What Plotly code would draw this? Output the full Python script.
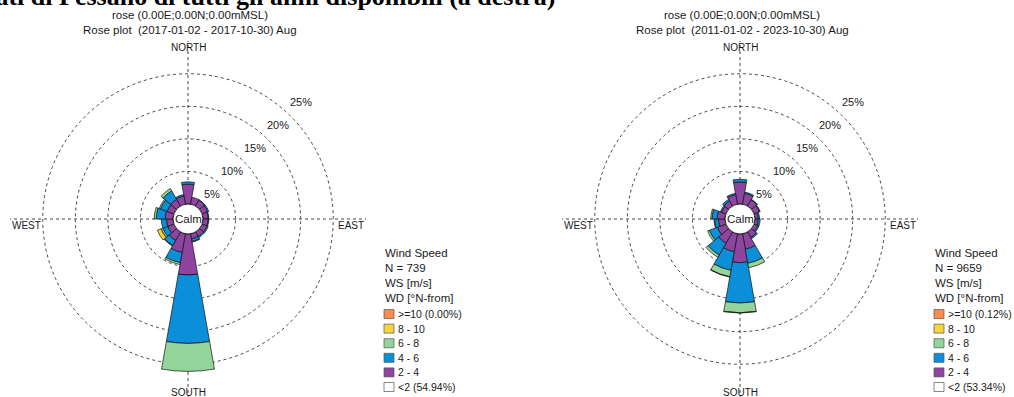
import plotly.graph_objects as go

# ---- data -----------------------------------------------------------------
# 18 direction sectors of 20 degrees, centred on 0, 20, ..., 340 (deg N-from)
bearings = [i * 20 for i in range(18)]

speed_classes = ["2 - 4", "4 - 6", "6 - 8", "8 - 10", ">=10"]
class_colors = ["#8e45a0", "#0a8fd8", "#93d49b", "#f6d53a", "#fb8a4e"]

# 2017 (percent of all records, by direction sector)
y2017_2_4 = [3.05, 1.1, 1.0, 0.9, 0.8, 0.8, 0.8, 0.8, 0.8, 6.3, 2.9, 1.5, 1.0, 1.0, 1.2, 1.1, 1.2, 1.3]
y2017_4_6 = [0.35, 0.0, 0.1, 0.2, 0.1, 0.1, 0.2, 0.2, 0.4, 10.5, 1.6, 0.9, 0.8, 0.8, 1.4, 1.1, 1.5, 0.2]
y2017_6_8 = [0.0, 0.0, 0.0, 0.0, 0.0, 0.0, 0.0, 0.0, 0.1, 4.3, 0.3, 0.1, 0.3, 0.0, 0.3, 0.2, 0.4, 0.0]
y2017_8_10 = [0.0, 0.0, 0.0, 0.0, 0.0, 0.0, 0.0, 0.0, 0.0, 0.0, 0.0, 0.0, 0.6, 0.0, 0.0, 0.0, 0.0, 0.0]
y2017_ge10 = [0.0] * 18

# 2011-2023
yall_2_4 = [3.4, 1.7, 1.1, 0.9, 0.5, 0.5, 0.6, 1.0, 2.4, 4.4, 2.8, 2.0, 1.4, 1.0, 1.2, 0.7, 0.9, 1.5]
yall_4_6 = [0.4, 0.2, 0.1, 0.1, 0.2, 0.3, 0.2, 0.2, 2.2, 6.2, 2.9, 2.1, 1.3, 0.6, 0.8, 0.2, 0.3, 0.2]
yall_6_8 = [0.0, 0.0, 0.0, 0.0, 0.0, 0.0, 0.0, 0.0, 0.7, 1.5, 1.0, 0.4, 0.3, 0.1, 0.2, 0.0, 0.0, 0.0]
yall_8_10 = [0.0, 0.0, 0.0, 0.0, 0.0, 0.0, 0.0, 0.0, 0.0, 0.05, 0.05, 0.0, 0.0, 0.0, 0.0, 0.0, 0.0, 0.0]
yall_ge10 = [0.0] * 18

roses = [
    dict(subtitle="rose (0.00E;0.00N;0.00mMSL)",
         period="Rose plot  (2017-01-02 - 2017-10-30) Aug",
         n=739, calm="54.94%", top="0.00%",
         series=[y2017_2_4, y2017_4_6, y2017_6_8, y2017_8_10, y2017_ge10]),
    dict(subtitle="rose (0.00E;0.00N;0.00mMSL)",
         period="Rose plot  (2011-01-02 - 2023-10-30) Aug",
         n=9659, calm="53.34%", top="0.12%",
         series=[yall_2_4, yall_4_6, yall_6_8, yall_8_10, yall_ge10]),
]

ring_values = [5, 10, 15, 20, 25]
R_MAX = 25

# ---- layout geometry (pixels) -----------------------------------------------
W, H = 1014, 397
R_PX = 178          # outer ring radius
HOLE_PX = 15        # calm circle radius
centers = [(188, 219), (740, 219)]
legend_x = [383, 933]


def px(x, y):
    return x / W, 1 - y / H


def r_px(v):
    return HOLE_PX + v * (R_PX - HOLE_PX) / R_MAX


fig = go.Figure()
annotations = []
shapes = []
TXT = dict(family="Liberation Sans, Arial, sans-serif", color="#1a1a1a")

for k, rose in enumerate(roses):
    polar = "polar" if k == 0 else "polar2"
    for name, vals, col in zip(speed_classes, rose["series"], class_colors):
        fig.add_trace(go.Barpolar(
            r=vals, theta=bearings, name=name, subplot=polar,
            marker=dict(color=col, line=dict(color="#111111", width=0.7)),
            showlegend=False, hoverinfo="skip"))

    cx, cy = centers[k]
    x0, _ = px(cx - R_PX, 0)
    x1, _ = px(cx + R_PX, 0)
    _, y0 = px(0, cy + R_PX)
    _, y1 = px(0, cy - R_PX)
    fig.layout[polar] = dict(
        domain=dict(x=[x0, x1], y=[max(0, y0), min(1, y1)]),
        hole=HOLE_PX / R_PX,
        bgcolor="white",
        barmode="stack",
        bargap=0,
        radialaxis=dict(range=[0, R_MAX + 0.03], tickvals=ring_values,
                        showticklabels=False, ticks="", showline=False,
                        showgrid=True, gridcolor="#444444", gridwidth=0.8,
                        griddash="dot"),
        angularaxis=dict(rotation=90, direction="clockwise",
                         tickvals=[0, 90, 180, 270], showticklabels=False,
                         ticks="", showline=False, showgrid=True,
                         gridcolor="#444444", gridwidth=0.8, griddash="dot"),
    )

    # headings
    for text, yy in [(rose["subtitle"], 15), (rose["period"], 30)]:
        ax, ay = px(cx + 2, yy)
        annotations.append(dict(x=ax, y=ay, xref="paper", yref="paper",
                                text=text, showarrow=False, xanchor="center",
                                yanchor="middle", font=dict(size=11.5, **TXT)))

    # compass labels inside the outer ring
    for text, xx, yy, anc in [("NORTH", cx, 47, "center"),
                              ("SOUTH", cx, 392, "center"),
                              ("WEST", cx - R_PX, 226, "left"),
                              ("EAST", cx + R_PX, 226, "right")]:
        ax, ay = px(xx, yy)
        annotations.append(dict(x=ax, y=ay, xref="paper", yref="paper",
                                text=text, showarrow=False, xanchor=anc,
                                yanchor="middle", font=dict(size=10, **TXT)))

    # ring labels along the NE diagonal
    for v in ring_values:
        d = r_px(v) * 0.7071
        ax, ay = px(cx + d, cy - d + 1)
        annotations.append(dict(x=ax, y=ay, xref="paper", yref="paper",
                                text=f"{v}%", showarrow=False, xanchor="right",
                                yanchor="top", font=dict(size=11, **TXT)))

    # calm circle
    cx0, cy0 = px(cx - HOLE_PX, cy + HOLE_PX)
    cx1, cy1 = px(cx + HOLE_PX, cy - HOLE_PX)
    shapes.append(dict(type="circle", xref="paper", yref="paper",
                       x0=cx0, y0=cy0, x1=cx1, y1=cy1,
                       line=dict(color="#111111", width=0.9),
                       fillcolor="white", layer="above"))
    ax, ay = px(cx, cy)
    annotations.append(dict(x=ax, y=ay, xref="paper", yref="paper", text="Calm",
                            showarrow=False, xanchor="center", yanchor="middle",
                            font=dict(size=11.5, **TXT)))

    # legend block
    lx = legend_x[k]
    for text, yy in [("Wind Speed", 253), (f"N = {rose['n']}", 268),
                     ("WS [m/s]", 283), ("WD [°N-from]", 298)]:
        ax, ay = px(lx, yy)
        annotations.append(dict(x=ax, y=ay, xref="paper", yref="paper",
                                text=text, showarrow=False, xanchor="left",
                                yanchor="middle", font=dict(size=11.5, **TXT)))
    legend_rows = [(f">=10 ({rose['top']})", class_colors[4]),
                   ("8 - 10", class_colors[3]),
                   ("6 - 8", class_colors[2]),
                   ("4 - 6", class_colors[1]),
                   ("2 - 4", class_colors[0]),
                   (f"<2 ({rose['calm']})", "white")]
    for i, (text, col) in enumerate(legend_rows):
        yy = 314 + i * 14.6
        bx0, by0 = px(lx + 1, yy + 4.5)
        bx1, by1 = px(lx + 11, yy - 4.5)
        shapes.append(dict(type="rect", xref="paper", yref="paper",
                           x0=bx0, y0=by0, x1=bx1, y1=by1, fillcolor=col,
                           line=dict(color="#555555", width=0.7)))
        ax, ay = px(lx + 13, yy)
        annotations.append(dict(x=ax, y=ay, xref="paper", yref="paper",
                                text=text, showarrow=False, xanchor="left",
                                yanchor="middle", font=dict(size=10.5, **TXT)))

# page heading, partly cut by the top edge
tx, ty = px(556, 12)
annotations.append(dict(x=tx, y=ty, xref="paper", yref="paper",
                        text="<b>dati di Pessano di tutti gli anni disponibili (a destra)</b>",
                        showarrow=False, xanchor="right", yanchor="bottom",
                        font=dict(family="Liberation Serif, Times New Roman, serif",
                                  size=26, color="black"),
                        borderpad=0))

fig.update_layout(width=W, height=H, margin=dict(l=0, r=0, t=0, b=0),
                  paper_bgcolor="white", plot_bgcolor="white",
                  annotations=annotations, shapes=shapes, showlegend=False)

fig.write_html("out.html")
